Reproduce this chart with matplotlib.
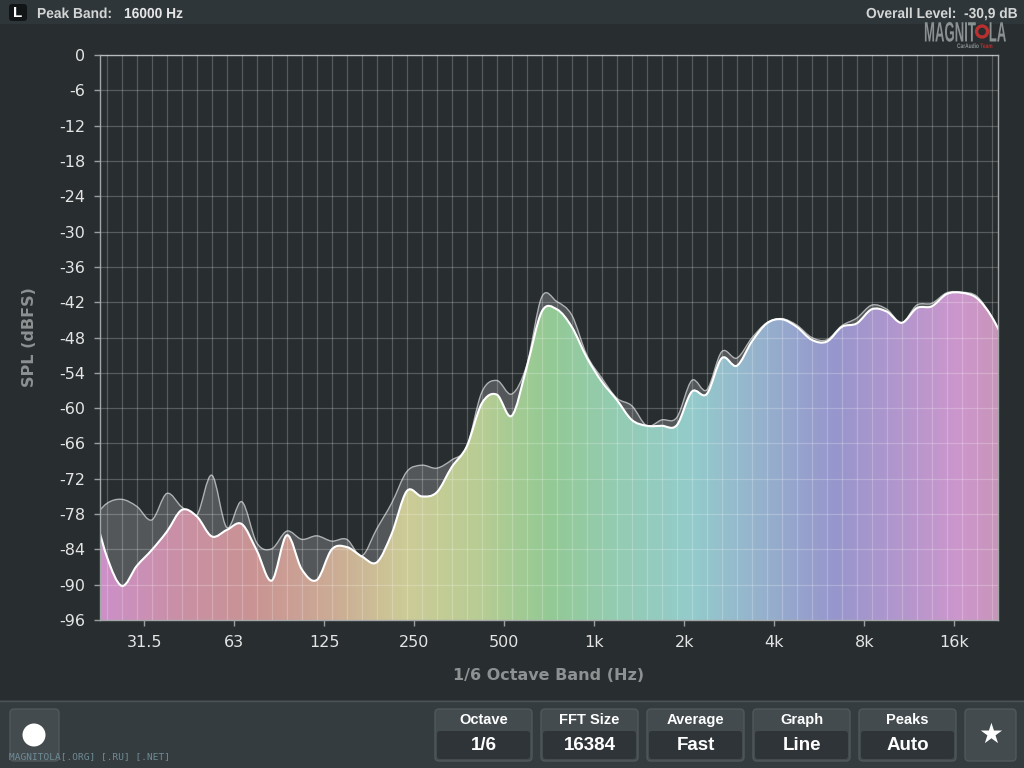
import numpy as np
import matplotlib
matplotlib.use("Agg")
import matplotlib.pyplot as plt
from matplotlib.path import Path
from matplotlib.patches import PathPatch, FancyBboxPatch, Circle, Rectangle
from matplotlib.colors import LinearSegmentedColormap
from matplotlib.ticker import NullFormatter
from matplotlib.textpath import TextPath
from matplotlib.font_manager import FontProperties
from matplotlib.transforms import Affine2D

# ---------------- data ----------------
# 1/6-octave band index (band 32.5 == 1 kHz)
band_index = list(range(-1, 61))
current_db = [-76.0, -85.2, -90.2, -86.8, -84.1, -81.0, -77.3, -78.4, -81.8, -80.7,
              -79.7, -84.2, -89.3, -81.6, -87.4, -89.2, -84.0, -83.6, -85.2, -86.2,
              -81.3, -74.1, -75.0, -74.3, -70.0, -66.5, -59.2, -57.7, -61.3, -53.0,
              -43.6, -43.2, -46.2, -51.4, -55.5, -58.6, -62.0, -63.0, -63.0, -62.9,
              -57.2, -57.6, -51.5, -52.8, -48.7, -45.6, -44.9, -46.2, -48.4, -48.7,
              -46.2, -45.6, -43.2, -43.6, -45.5, -43.0, -42.7, -40.6, -40.4, -41.3,
              -44.5, -49.5]
peak_db = [-79.0, -76.2, -75.5, -76.7, -79.0, -74.5, -76.8, -78.2, -71.4, -80.3,
           -75.9, -82.9, -83.9, -80.9, -82.3, -81.7, -82.6, -82.3, -85.1, -80.5,
           -76.1, -70.8, -69.7, -70.2, -68.8, -66.6, -57.3, -55.3, -57.6, -52.7,
           -41.1, -41.9, -44.2, -51.0, -54.9, -58.3, -59.6, -63.0, -62.0, -61.6,
           -55.3, -56.9, -50.4, -51.5, -48.1, -45.5, -44.8, -45.9, -48.0, -48.4,
           -46.0, -44.7, -42.5, -43.2, -45.5, -42.5, -42.2, -40.4, -40.3, -41.0,
           -44.5, -49.5]
octave_ticks = [1000 * 2.0 ** k for k in range(-5, 5)]
octave_labels = ['31.5', '63', '125', '250', '500', '1k', '2k', '4k', '8k', '16k']
y_ticks = list(range(0, -97, -6))

band_freq = 1000 * 2 ** ((np.array(band_index) - 32.5) / 6.0)

# ---------------- style ----------------
BG = '#282d2f'
TOPBAR = '#2f3639'
BOTBAR = '#353c3f'
SANS = ['Liberation Sans', 'DejaVu Sans']

fig = plt.figure(figsize=(10.24, 7.68), dpi=100)
fig.patch.set_facecolor(BG)

# background / chrome axes in pixel coords (y down)
bg = fig.add_axes([0, 0, 1, 1], zorder=0)
bg.set_xlim(0, 1024)
bg.set_ylim(768, 0)
bg.axis('off')

bg.add_patch(Rectangle((0, 0), 1024, 24, color=TOPBAR, lw=0))
bg.add_patch(Rectangle((0, 700), 1024, 68, color=BOTBAR, lw=0))
bg.plot([0, 1024], [700.5, 700.5], color='#4a5255', lw=1)

FP_BOLD = FontProperties(family='Liberation Sans', weight='bold')


def text_width(s, height, sx):
    return TextPath((0, 0), s, size=1, prop=FP_BOLD).get_extents().x1 * height * sx


def squeezed_text(s, x, y, height, sx, color):
    """Condensed text drawn as a path: x,y is the baseline-left in pixel coords."""
    tp = TextPath((0, 0), s, size=1, prop=FP_BOLD)
    tr = Affine2D().scale(height * sx, -height).translate(x, y) + bg.transData
    bg.add_patch(PathPatch(tp, transform=tr, fc=color, ec='none'))
    return x + tp.get_extents().x1 * height * sx


bg.add_patch(FancyBboxPatch((9, 4), 18, 17, boxstyle='round,pad=0,rounding_size=3',
                            fc='#121516', ec='none'))
bg.text(18, 13, 'L', color='white', fontsize=11, fontweight='bold', ha='center',
        va='center', family=SANS)
TH, TSX = 14.5, 0.95
squeezed_text('Peak Band:', 37, 18, TH, TSX, '#d4d6d6')
squeezed_text('16000 Hz', 124, 18, TH, TSX, '#e6e6e6')
ol = 'Overall Level:  -30,9 dB'
squeezed_text(ol, 1017 - text_width(ol, TH, TSX), 18, TH, TSX, '#d4d6d6')

# logo
xe = squeezed_text('MAGNIT', 924, 41.5, 28, 0.47, '#8a9191')
bg.add_patch(Circle((xe + 6.3, 31.5), 5.5, fc='none', ec='#b83030', lw=2.4))
squeezed_text('LA', xe + 13, 41.5, 28, 0.47, '#8a9191')
xc = squeezed_text('CarAudio', 957, 48, 6.5, 0.75, '#8a9191')
squeezed_text('Team', xc + 1.5, 48, 6.5, 0.75, '#b83030')


# bottom buttons
def button(x0, x1, label=None, value=None):
    bg.add_patch(FancyBboxPatch((x0, 709), x1 - x0, 52, boxstyle='round,pad=0,rounding_size=4',
                                fc='#434b4e', ec='#50585b', lw=1))
    if label is not None:
        bg.add_patch(FancyBboxPatch((x0 + 2, 731), x1 - x0 - 4, 28,
                                    boxstyle='round,pad=0,rounding_size=3',
                                    fc='#2e3437', ec='none'))
        bg.text((x0 + x1) / 2, 720, label, color='white', fontsize=10.5, fontweight='bold',
                ha='center', va='center', family=SANS)
        bg.text((x0 + x1) / 2, 745, value, color='white', fontsize=13.5,
                ha='center', va='center', family=SANS, fontweight='bold')


button(10, 59)
bg.add_patch(Circle((34, 735), 11.5, fc='white', ec='none'))
bg.text(9, 757, 'MAGNITOLA[.ORG] [.RU] [.NET]', color='#6f8c96', fontsize=6.8,
        ha='left', va='center', family='DejaVu Sans Mono')
for x0, x1, lab, val in [(435, 532, 'Octave', '1/6'), (541, 638, 'FFT Size', '16384'),
                         (647, 744, 'Average', 'Fast'), (753, 850, 'Graph', 'Line'),
                         (859, 956, 'Peaks', 'Auto')]:
    button(x0, x1, lab, val)
button(965, 1016)
bg.text(990.5, 735, '★', color='white', fontsize=20, ha='center', va='center',
        family='DejaVu Sans')

# axis labels
bg.text(30, 337, 'SPL (dBFS)', color='#8e9192', fontsize=11.5, fontweight='bold',
        rotation=90, ha='center', va='center', family='DejaVu Sans')
bg.text(549, 675, '1/6 Octave Band (Hz)', color='#8e9192', fontsize=11.5,
        fontweight='bold', ha='center', va='center', family='DejaVu Sans')

# ---------------- main axes ----------------
ax = fig.add_axes([100 / 1024, 148 / 768, 898 / 1024, 565 / 768], zorder=1)
ax.set_facecolor(BG)
ax.set_xscale('log', base=2)
xmin = 1000 * 2 ** ((100 - 594.3) / 90)
xmax = 1000 * 2 ** ((998 - 594.3) / 90)
ax.set_xlim(xmin, xmax)
ax.set_ylim(-96, 0)


def smooth_path(fx, fy, base=None):
    lx = np.log2(fx)
    n = len(lx)
    verts, codes = [], []
    if base is not None:
        verts += [(fx[0], base), (fx[0], fy[0])]
        codes += [Path.MOVETO, Path.LINETO]
    else:
        verts += [(fx[0], fy[0])]
        codes += [Path.MOVETO]
    for i in range(n - 1):
        p0 = max(i - 1, 0)
        p3 = min(i + 2, n - 1)
        c1x = lx[i] + (lx[i + 1] - lx[p0]) / 6
        c1y = fy[i] + (fy[i + 1] - fy[p0]) / 6
        c2x = lx[i + 1] - (lx[p3] - lx[i]) / 6
        c2y = fy[i + 1] - (fy[p3] - fy[i]) / 6
        verts += [(2 ** c1x, c1y), (2 ** c2x, c2y), (fx[i + 1], fy[i + 1])]
        codes += [Path.CURVE4] * 3
    if base is not None:
        verts += [(fx[-1], base), (fx[0], base)]
        codes += [Path.LINETO, Path.CLOSEPOLY]
    return Path(verts, codes)


cur = np.array(current_db)
pk = np.array(peak_db)

peak_fill = PathPatch(smooth_path(band_freq, pk, -110), transform=ax.transData,
                      fc='#53575a', ec='none', zorder=1.0)
ax.add_patch(peak_fill)
ax.add_patch(PathPatch(smooth_path(band_freq, pk), transform=ax.transData,
                       fc='none', ec='#aeb1b2', lw=1.0, zorder=1.1))

cur_fill = PathPatch(smooth_path(band_freq, cur, -110), transform=ax.transData,
                     fc='none', ec='none', zorder=1.2)
ax.add_patch(cur_fill)

grad_stops = [(0.0, '#cc8fc8'), (0.08, '#c98fa6'), (0.17, '#c99393'), (0.26, '#cbab94'),
              (0.34, '#cccb96'), (0.42, '#b8cc93'), (0.5, '#93c993'), (0.58, '#93cbb3'),
              (0.66, '#93cbcb'), (0.74, '#95b0cc'), (0.82, '#9696cc'), (0.9, '#b496cc'),
              (0.96, '#cc96cc'), (1.0, '#c895bb')]
cmap = LinearSegmentedColormap.from_list('spec', grad_stops)
edges = np.geomspace(xmin, xmax, 450)
C = np.linspace(0, 1, len(edges) - 1)[None, :]
mesh = ax.pcolormesh(edges, [-100, 0], C, cmap=cmap, shading='flat',
                     antialiased=False, edgecolors='none', zorder=1.2)
mesh.set_clip_path(cur_fill)

ax.add_patch(PathPatch(smooth_path(band_freq, cur), transform=ax.transData,
                       fc='none', ec='white', lw=1.5, zorder=1.3))

# ticks & grid
ax.set_xticks(octave_ticks)
ax.set_xticklabels(octave_labels)
ax.set_xticks(band_freq[1:-1], minor=True)
ax.xaxis.set_minor_formatter(NullFormatter())
ax.set_yticks(y_ticks)
ax.set_yticklabels([str(v) for v in y_ticks])
ax.tick_params(axis='both', which='major', colors='#9a9ea0', labelcolor='#e4e4e4',
               labelsize=11.5, length=4, width=1, pad=6.5)
ax.tick_params(axis='x', which='minor', length=0)
ax.set_axisbelow(False)
ax.grid(True, which='minor', axis='x', color='white', alpha=0.22, lw=0.9)
ax.grid(True, which='major', axis='y', color='white', alpha=0.22, lw=0.9)
ax.grid(False, which='major', axis='x')
for s in ax.spines.values():
    s.set_color('#a3a7a8')
    s.set_linewidth(1)

fig.savefig('out.png', dpi=100, facecolor=BG)
